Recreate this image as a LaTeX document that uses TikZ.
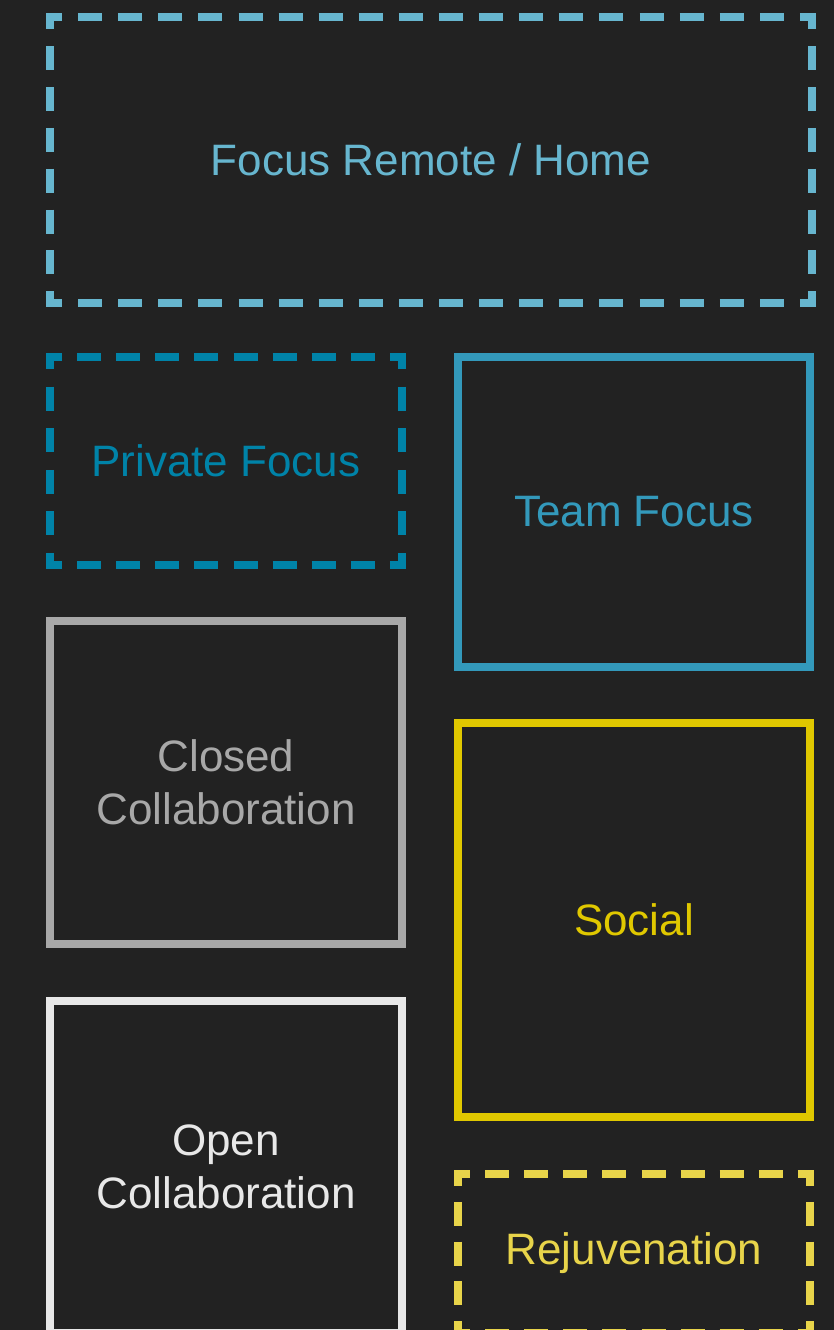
\documentclass[tikz,border=0pt]{standalone}
\usepackage{fontspec}
\setmainfont{Liberation Sans}
\definecolor{bgdark}{HTML}{222222}
\definecolor{remoteblue}{HTML}{67B6CF}
\definecolor{privblue}{HTML}{0083A8}
\definecolor{teamblue}{HTML}{3399BB}
\definecolor{closedgrey}{HTML}{A8A8A8}
\definecolor{openwhite}{HTML}{E8E8E8}
\definecolor{socialyellow}{HTML}{E0C800}
\definecolor{rejuyellow}{HTML}{E8D44A}
\tikzset{
  zone/.style={rectangle, minimum width=352pt, inner sep=0pt, outer sep=0pt, line width=8pt, align=center, font=\fontsize{44}{53}\selectfont},
  dside/.style={line width=8pt, dash pattern=on 24pt off #1pt, dash phase=8pt, shorten <=-4pt, shorten >=-4pt}
}
\begin{document}
\begin{tikzpicture}[x=1pt,y=-1pt]
            \useasboundingbox (0,0) rectangle (834,1330);
            \fill [bgdark] (0,0) rectangle (834,1330);
            \clip (0,0) rectangle (834,1330);
            \node [zone, minimum width=762pt, minimum height=285.5pt, text=remoteblue] (remote) at (431,160.25) {Focus Remote / Home};
            \node [zone, minimum height=208pt, text=privblue] (private) at (226,461) {Private Focus};
            \node [zone, draw=teamblue, minimum height=310pt, text=teamblue] (team) at (634,512) {Team Focus};
            \node [zone, draw=closedgrey, minimum height=323pt, text=closedgrey] (closed) at (226,782.5) {Closed\\Collaboration};
            \node [zone, draw=socialyellow, minimum height=394pt, text=socialyellow] (social) at (634,920) {Social};
            \node [zone, draw=openwhite, minimum height=332pt, text=openwhite] (open) at (226,1167) {Open\\Collaboration};
            \node [zone, minimum height=159pt, text=rejuyellow] (rejuv) at (634,1253.5) {Rejuvenation};
            % dashed borders, one side at a time so every corner is closed
            \foreach \n/\c/\gw/\gh in {remote/remoteblue/16.1/16.8, private/privblue/15.1/17.6, rejuv/rejuyellow/15.1/15.75}
              \foreach \a/\b/\g in {north west/north east/\gw, south west/south east/\gw, north west/south west/\gh, north east/south east/\gh}
                \draw [dside=\g, \c] (\n.\a) -- (\n.\b);
        \end{tikzpicture}
\end{document}
